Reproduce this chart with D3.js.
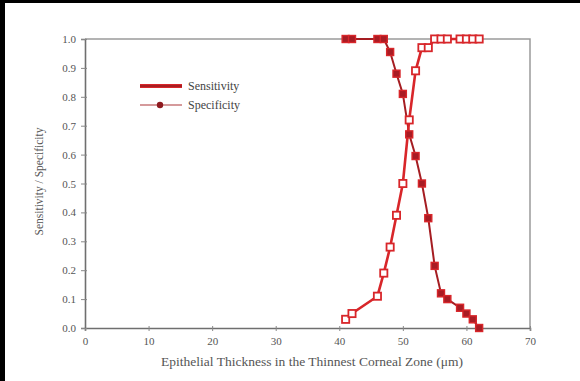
<!DOCTYPE html>
<html><head><meta charset="utf-8">
<script src="https://cdn.jsdelivr.net/npm/d3@7"></script>
<style>
html,body{margin:0;padding:0;background:#000;}
svg{display:block;}
</style></head>
<body>
<svg id="chart" width="580" height="381"></svg>
<script>
const thresholds = [41,42,46,47,48,49,50,51,52,53,54,55,56,57,59,60,61,62];
const sensitivity = [0.03,0.05,0.11,0.19,0.28,0.39,0.50,0.72,0.89,0.97,0.97,1,1,1,1,1,1,1];
const specificity = [1,1,1,1,0.955,0.88,0.81,0.67,0.595,0.50,0.38,0.215,0.12,0.10,0.07,0.05,0.03,0.0];
const xTicks = [0,10,20,30,40,50,60,70];
const yTicks = [0,0.1,0.2,0.3,0.4,0.5,0.6,0.7,0.8,0.9,1.0];
const seriesNames = ["Sensitivity","Specificity"];
const xTitle = "Epithelial Thickness in the Thinnest Corneal Zone (μm)";
const yTitle = "Sensitivity / Specificity";

const svg = d3.select("#chart");
svg.append("rect").attr("x",0).attr("y",0).attr("width",580).attr("height",381).attr("fill","#000");
svg.append("rect").attr("x",5).attr("y",3).attr("width",575).attr("height",378).attr("fill","#fff");

const L=85,R=530,T=39,B=328;
const x = d3.scaleLinear().domain([0,70]).range([L,R]);
const y = d3.scaleLinear().domain([0,1]).range([B,T]);
const font = "'Liberation Serif','Times New Roman',serif";

svg.append("path").attr("d",`M${L},${T}H${R}V${B}`).attr("fill","none").attr("stroke","#9a9a9a").attr("stroke-width",1.5);

const xAxis = svg.append("g").attr("transform",`translate(0,${B})`)
  .call(d3.axisBottom(x).tickValues(xTicks).tickFormat(d3.format("d")).tickSize(3).tickPadding(6));
const yAxis = svg.append("g").attr("transform",`translate(${L},0)`)
  .call(d3.axisLeft(y).tickValues(yTicks).tickFormat(d3.format(".1f")).tickSize(4).tickPadding(5));
[xAxis,yAxis].forEach(g=>{
  g.select(".domain").attr("stroke","#6f6f6f").attr("stroke-width",1.6);
  g.selectAll(".tick line").attr("stroke","#888").attr("stroke-width",1);
  g.selectAll("text").attr("fill","#555").style("font-family",font).style("font-size","11px");
});
xAxis.selectAll(".tick line").attr("y1",-2);
yAxis.selectAll(".tick line").attr("x1",2);

svg.append("text").attr("x",312).attr("y",366).attr("text-anchor","middle")
  .attr("fill","#555").style("font-family",font).style("font-size","13.5px").text(xTitle);
svg.append("text").attr("transform",`translate(43,${(T+B)/2-2}) rotate(-90)`).attr("text-anchor","middle")
  .attr("fill","#555").style("font-family",font).style("font-size","11.5px").text(yTitle);

const sensData = thresholds.map((t,i)=>({x:t,y:sensitivity[i]}));
const specData = thresholds.map((t,i)=>({x:t,y:specificity[i]}));
const line = d3.line().x(d=>x(d.x)).y(d=>y(d.y));

const red="#d8262a", dark="#a51d22";
svg.append("path").datum(specData).attr("d",line).attr("fill","none").attr("stroke",dark).attr("stroke-width",2);
svg.append("path").datum(sensData).attr("d",line).attr("fill","none").attr("stroke",red).attr("stroke-width",2.6);

svg.append("g").selectAll("rect").data(specData).join("rect")
  .attr("x",d=>x(d.x)-3.5).attr("y",d=>y(d.y)-3.5).attr("width",7).attr("height",7)
  .attr("fill","#a81c24").attr("stroke",red).attr("stroke-width",1.4);
svg.append("g").selectAll("rect").data(sensData).join("rect")
  .attr("x",d=>x(d.x)-3.6).attr("y",d=>y(d.y)-3.6).attr("width",7.2).attr("height",7.2)
  .attr("fill","#fff").attr("stroke",red).attr("stroke-width",1.8);

const lg = svg.append("g");
lg.append("line").attr("x1",140).attr("x2",182).attr("y1",86).attr("y2",86).attr("stroke",red).attr("stroke-width",3.8);
lg.append("line").attr("x1",140).attr("x2",182).attr("y1",86).attr("y2",86).attr("stroke","#9a1c20").attr("stroke-width",1.3);
lg.append("line").attr("x1",140).attr("x2",182).attr("y1",105).attr("y2",105).attr("stroke","#c7787a").attr("stroke-width",1.6);
lg.append("circle").attr("cx",160).attr("cy",105).attr("r",3.2).attr("fill","#8e1a1f");
lg.selectAll("text").data(seriesNames).join("text")
  .attr("x",188).attr("y",(d,i)=>90+i*19).attr("fill","#444")
  .style("font-family",font).style("font-size","12px").text(d=>d);
</script>
</body></html>
